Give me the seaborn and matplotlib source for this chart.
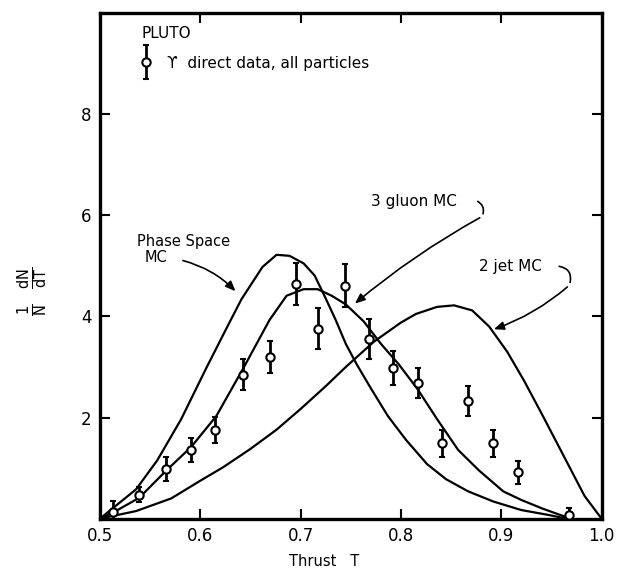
import matplotlib
matplotlib.use("Agg")
import matplotlib.pyplot as plt
import seaborn as sns
import numpy as np
import pandas as pd

# ---- data ----
data_T = [0.513, 0.539, 0.566, 0.591, 0.615, 0.643, 0.669, 0.695, 0.717, 0.744,
          0.768, 0.792, 0.817, 0.841, 0.867, 0.892, 0.917, 0.968]
data_y = [0.14, 0.47, 0.98, 1.36, 1.76, 2.85, 3.20, 4.64, 3.76, 4.61,
          3.55, 2.98, 2.68, 1.49, 2.33, 1.49, 0.92, 0.07]
data_err = [0.20, 0.15, 0.23, 0.24, 0.26, 0.30, 0.32, 0.42, 0.40, 0.43,
            0.40, 0.34, 0.30, 0.27, 0.30, 0.27, 0.23, 0.14]

ps_T = [0.50, 0.536, 0.557, 0.581, 0.606, 0.627, 0.641, 0.662, 0.676, 0.689, 0.703,
        0.714, 0.724, 0.735, 0.745, 0.756, 0.770, 0.787, 0.805, 0.826, 0.845, 0.867,
        0.892, 0.920, 0.948, 0.965]
ps_y = [0.0, 0.58, 1.15, 1.97, 2.98, 3.80, 4.34, 4.98, 5.22, 5.20, 5.05,
        4.81, 4.40, 3.93, 3.46, 3.05, 2.58, 2.03, 1.56, 1.08, 0.78, 0.54,
        0.34, 0.17, 0.07, 0.0]

g3_T = [0.50, 0.513, 0.539, 0.566, 0.591, 0.616, 0.643, 0.669, 0.686, 0.703, 0.717,
        0.731, 0.745, 0.763, 0.780, 0.798, 0.817, 0.836, 0.857, 0.878, 0.902, 0.920,
        0.941, 0.962, 0.969]
g3_y = [0.0, 0.12, 0.41, 0.95, 1.42, 2.03, 2.98, 3.93, 4.41, 4.54, 4.54,
        4.41, 4.24, 3.90, 3.46, 3.05, 2.55, 1.97, 1.36, 0.95, 0.54, 0.37,
        0.20, 0.05, 0.0]

j2_T = [0.50, 0.536, 0.571, 0.60, 0.623, 0.65, 0.676, 0.70, 0.725, 0.745, 0.773,
        0.80, 0.815, 0.836, 0.853, 0.871, 0.888, 0.906, 0.923, 0.941, 0.962, 0.983, 1.0]
j2_y = [0.0, 0.15, 0.40, 0.75, 1.02, 1.38, 1.76, 2.17, 2.62, 3.00, 3.50,
        3.88, 4.05, 4.19, 4.22, 4.12, 3.80, 3.30, 2.72, 2.05, 1.25, 0.45, 0.0]

x_ticks = [0.5, 0.6, 0.7, 0.8, 0.9, 1.0]
x_ticklabels = ["0.5", "0.6", "0.7", "0.8", "0.9", "1.0"]
y_ticks = [2, 4, 6, 8]
y_ticklabels = ["2", "4", "6", "8"]

# ---- figure ----
sns.set_style("ticks")
plt.rcParams['font.family'] = ['DejaVu Sans']
plt.rcParams['mathtext.default'] = 'regular'
plt.rcParams['text.color'] = 'black'
plt.rcParams['axes.labelcolor'] = 'black'
plt.rcParams['xtick.color'] = 'black'
plt.rcParams['ytick.color'] = 'black'

fig = plt.figure(figsize=(6.17, 5.75), dpi=100)
ax = fig.add_axes([0.162, 0.098, 0.813, 0.879])

curves = pd.concat([
    pd.DataFrame({"T": ps_T, "y": ps_y, "model": "Phase Space MC"}),
    pd.DataFrame({"T": g3_T, "y": g3_y, "model": "3 gluon MC"}),
    pd.DataFrame({"T": j2_T, "y": j2_y, "model": "2 jet MC"}),
])
sns.lineplot(data=curves, x="T", y="y", units="model", estimator=None, sort=False,
             color="black", linewidth=1.6, ax=ax, legend=False)

ax.errorbar(data_T, data_y, yerr=data_err, fmt="o", mfc="white", mec="black",
            ecolor="black", color="black", markersize=6, mew=1.5, elinewidth=2,
            capsize=2, capthick=1.5, zorder=5)

ax.set_xlim(0.5, 1.0)
ax.set_ylim(0, 10)
ax.set_xticks(x_ticks)
ax.set_xticklabels(x_ticklabels)
ax.set_yticks(y_ticks)
ax.set_yticklabels(y_ticklabels)
ax.tick_params(direction="in", length=7, width=1.5, top=True, right=True,
               labelsize=12, pad=6, colors="black")
for s in ax.spines.values():
    s.set_linewidth(2.4)
    s.set_color("black")

ax.set_xlabel("Thrust   T", fontsize=10.5)
ax.xaxis.set_label_coords(0.447, -0.07)
ax.set_ylabel(r"$\frac{1}{N}\ \ \frac{dN}{dT}$", fontsize=15, rotation=90)
ax.yaxis.set_label_coords(-0.10, 0.45)

# legend-like text block
ax.text(0.541, 9.59, "PLUTO", fontsize=11, ha="left", va="center")
ax.errorbar([0.546], [9.03], yerr=[0.34], fmt="o", mfc="white", mec="black",
            ecolor="black", markersize=6, mew=1.5, elinewidth=2, capsize=2)
ax.text(0.567, 9.0, "ϒ  direct data, all particles", fontsize=11, ha="left", va="center")

# annotations
arrow_kw = dict(arrowstyle="-|>,head_length=0.6,head_width=0.25", color="black", lw=1.2)
line_kw = dict(arrowstyle="-", color="black", lw=1.2)

ax.text(0.537, 5.48, "Phase Space", fontsize=10.5, ha="left", va="center")
ax.text(0.545, 5.17, "MC", fontsize=10.5, ha="left", va="center")
ax.annotate("", xy=(0.637, 4.46), xytext=(0.580, 5.12),
            arrowprops=dict(connectionstyle="arc3,rad=-0.15", **arrow_kw))

ax.text(0.770, 6.27, "3 gluon MC", fontsize=11, ha="left", va="center")
ax.annotate("", xy=(0.881, 5.98), xytext=(0.874, 6.30),
            arrowprops=dict(connectionstyle="arc3,rad=-0.5", **line_kw))
ax.annotate("", xy=(0.752, 4.22), xytext=(0.881, 5.98),
            arrowprops=dict(connectionstyle="arc3,rad=0.05", **arrow_kw))

ax.text(0.878, 4.98, "2 jet MC", fontsize=11, ha="left", va="center")
ax.annotate("", xy=(0.968, 4.62), xytext=(0.955, 5.0),
            arrowprops=dict(connectionstyle="arc3,rad=-0.6", **line_kw))
ax.annotate("", xy=(0.890, 3.73), xytext=(0.968, 4.62),
            arrowprops=dict(connectionstyle="arc3,rad=-0.1", **arrow_kw))

fig.savefig("out.png", dpi=100)
